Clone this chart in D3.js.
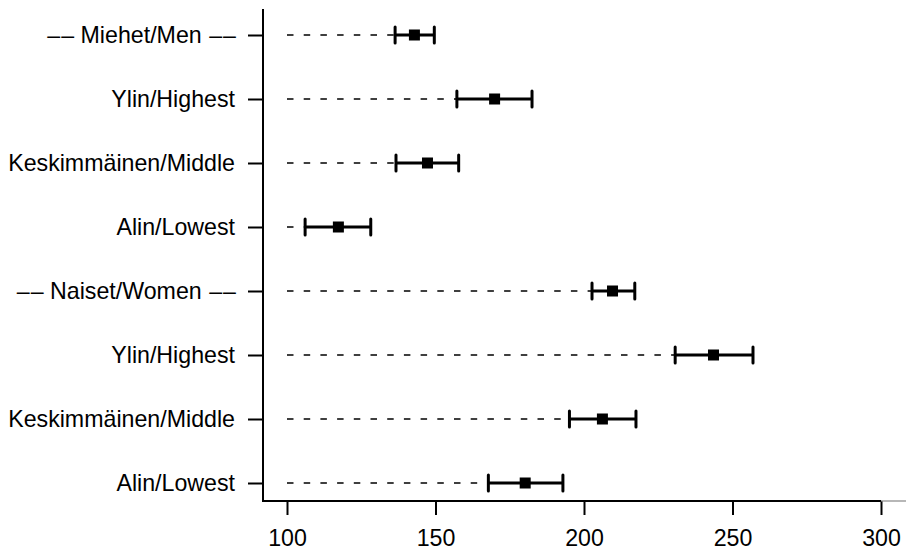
<!DOCTYPE html>
<html lang="en">
<head>
<meta charset="UTF-8">
<title>Forest plot</title>
<style>
    body { margin: 0; background: #fff; }
    svg { display: block; }
    .axis text { font-family: "Liberation Sans", Arial, Helvetica, sans-serif; font-size: 23.2px; fill: #000; }
    .axis line { stroke: #000; stroke-width: 2px; }
</style>
</head>
<body>
<div id="chart"></div>
<script src="https://d3js.org/d3.v7.min.js"></script>
<script>
// Rows top to bottom
const labels = ["\u2013\u2013 Miehet/Men \u2013\u2013", "Ylin/Highest", "Keskimmäinen/Middle", "Alin/Lowest",
                "\u2013\u2013 Naiset/Women \u2013\u2013", "Ylin/Highest", "Keskimmäinen/Middle", "Alin/Lowest"];
const estimate = [142.9, 169.9, 147.3, 117.3, 209.6, 243.6, 206.2, 180.2];
const lower    = [136.4, 157.2, 136.7, 106.1, 202.7, 230.7, 195.1, 167.8];
const upper    = [149.6, 182.5, 157.8, 128.2, 217.1, 256.9, 217.5, 192.9];
const xTicks = [100, 150, 200, 250, 300];

const width = 906, height = 552;
const rows = labels.map((d, i) => i);

const svg = d3.select("#chart").append("svg")
    .attr("width", width)
    .attr("height", height);

const x = d3.scaleLinear().domain([100, 300]).range([287, 881]);
const y = d3.scalePoint().domain(rows).range([35, 483]);

const axisX = 263, axisY = 501;

// y axis
const gy = svg.append("g")
    .attr("class", "axis")
    .attr("transform", `translate(${axisX},0)`)
    .call(d3.axisLeft(y).tickSize(15).tickPadding(13).tickFormat(i => labels[i]));
gy.select(".domain").remove();
// small gap between the two dashes, as in the original
gy.selectAll("text").attr("word-spacing", "0px")
    .each(function() {
        const t = d3.select(this), s = t.text();
        if (s.indexOf("\u2013") < 0) return;
        t.text(null);
        s.split("").forEach(ch => {
            t.append("tspan").attr("dx", ch === "\u2013" ? 1 : null).text(ch);
        });
    });

// x axis
const gx = svg.append("g")
    .attr("class", "axis")
    .attr("transform", `translate(0,${axisY})`)
    .call(d3.axisBottom(x).tickValues(xTicks).tickSize(14).tickPadding(15).tickFormat(d3.format("d")));
gx.select(".domain").remove();

// axis lines (L-shaped frame)
svg.append("line")
    .attr("x1", axisX).attr("x2", axisX)
    .attr("y1", 9).attr("y2", axisY)
    .attr("stroke", "#000").attr("stroke-width", 2);
svg.append("line")
    .attr("x1", axisX - 1).attr("x2", x(300))
    .attr("y1", axisY).attr("y2", axisY)
    .attr("stroke", "#000").attr("stroke-width", 2);
svg.append("line")
    .attr("x1", x(300)).attr("x2", width)
    .attr("y1", axisY).attr("y2", axisY)
    .attr("stroke", "#888").attr("stroke-width", 1.2);

const rowsG = svg.append("g");

// dashed guide from 100 to lower bound
rowsG.selectAll(".guide")
    .data(rows)
    .enter().append("line")
    .attr("class", "guide")
    .attr("x1", x(100))
    .attr("x2", i => x(lower[i]))
    .attr("y1", i => y(i)).attr("y2", i => y(i))
    .attr("stroke", "#000")
    .attr("stroke-width", 1.4)
    .attr("stroke-dasharray", "6.5,10.2");

// confidence interval
rowsG.selectAll(".ci")
    .data(rows)
    .enter().append("line")
    .attr("class", "ci")
    .attr("x1", i => x(lower[i]))
    .attr("x2", i => x(upper[i]))
    .attr("y1", i => y(i)).attr("y2", i => y(i))
    .attr("stroke", "#000")
    .attr("stroke-width", 3);

// caps
[lower, upper].forEach(arr => {
    rowsG.selectAll(null)
        .data(rows)
        .enter().append("line")
        .attr("x1", i => x(arr[i])).attr("x2", i => x(arr[i]))
        .attr("y1", i => y(i) - 8).attr("y2", i => y(i) + 8)
        .attr("stroke", "#000")
        .attr("stroke-width", 3)
        .attr("stroke-linecap", "round");
});

// point estimates
const sq = 11;
rowsG.selectAll(".pt")
    .data(rows)
    .enter().append("rect")
    .attr("class", "pt")
    .attr("x", i => x(estimate[i]) - sq / 2)
    .attr("y", i => y(i) - sq / 2)
    .attr("width", sq)
    .attr("height", sq)
    .attr("fill", "#000");
</script>
</body>
</html>
